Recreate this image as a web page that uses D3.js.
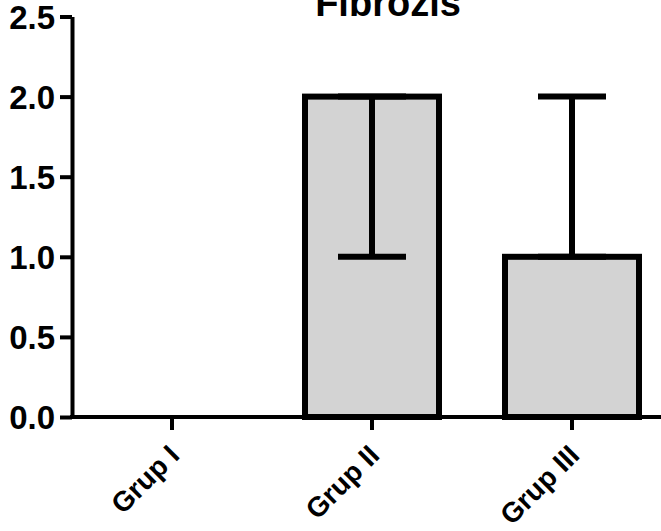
<!DOCTYPE html>
<html>
<head>
<meta charset="utf-8">
<script src="https://cdn.jsdelivr.net/npm/d3@7/dist/d3.min.js"></script>
<style>
  html, body { margin: 0; padding: 0; background: #ffffff; }
  svg { display: block; }
  text { font-family: "Liberation Sans", Arial, Helvetica, sans-serif; font-weight: bold; fill: #000; }
</style>
</head>
<body>
<svg id="chart" width="661" height="531"></svg>
<script>
// Fibrosis score per group: median with range
const groups = ["Grup I", "Grup II", "Grup III"];
const medians = [0, 2, 1];
const rangeMin = [0, 1, 1];
const rangeMax = [0, 2, 2];
const yTicks = [0, 0.5, 1, 1.5, 2, 2.5];
const title = "Fibrozis";

(function draw() {
  const svg = d3.select("#chart");
  const plotLeft = 72, plotRight = 672, plotTop = 16.5, plotBottom = 417;

  const x = d3.scaleBand().domain(groups).range([plotLeft, plotRight]).paddingInner(0.33).paddingOuter(0.165);
  const y = d3.scaleLinear().domain([0, 2.5]).range([plotBottom, plotTop]);

  // Bars
  svg.append("g").selectAll("rect").data(groups).join("rect")
    .attr("x", d => x(d))
    .attr("width", x.bandwidth())
    .attr("y", (d, i) => y(medians[i]))
    .attr("height", (d, i) => plotBottom - y(medians[i]))
    .attr("fill", "#d3d3d3")
    .attr("stroke", "#000")
    .attr("stroke-width", 6)
    .attr("display", (d, i) => medians[i] > 0 ? null : "none");

  // Range whiskers
  const capW = 68;
  const eb = svg.append("g").attr("stroke", "#000").attr("stroke-width", 6).attr("fill", "none");
  groups.forEach((g, i) => {
    if (rangeMax[i] === rangeMin[i]) return;
    const cx = x(g) + x.bandwidth() / 2;
    eb.append("line").attr("x1", cx).attr("x2", cx).attr("y1", y(rangeMin[i])).attr("y2", y(rangeMax[i]));
    eb.append("line").attr("x1", cx - capW / 2).attr("x2", cx + capW / 2).attr("y1", y(rangeMin[i])).attr("y2", y(rangeMin[i]));
    eb.append("line").attr("x1", cx - capW / 2).attr("x2", cx + capW / 2).attr("y1", y(rangeMax[i])).attr("y2", y(rangeMax[i]));
  });

  // Y axis
  const yAxis = svg.append("g").attr("transform", `translate(${plotLeft},0)`)
    .call(d3.axisLeft(y).tickValues(yTicks).tickFormat(d3.format(".1f")).tickSize(12).tickSizeOuter(0).tickPadding(5));
  yAxis.select(".domain").attr("stroke", "#000").attr("stroke-width", 4);
  yAxis.selectAll(".tick line").attr("stroke", "#000").attr("stroke-width", 4);
  yAxis.selectAll(".tick text")
    .style("font-family", '"Liberation Sans", Arial, sans-serif')
    .style("font-weight", "bold")
    .style("font-size", "33px")
    .attr("fill", "#000")
    .attr("dy", "0.36em");

  // X axis
  const xAxis = svg.append("g").attr("transform", `translate(0,${plotBottom})`)
    .call(d3.axisBottom(x).tickSize(13).tickSizeOuter(0));
  xAxis.select(".domain").attr("stroke", "#000").attr("stroke-width", 4)
    .attr("d", `M${plotLeft - 2},0H${plotRight}`);
  xAxis.selectAll(".tick line").attr("stroke", "#000").attr("stroke-width", 4);
  xAxis.selectAll(".tick text")
    .style("font-family", '"Liberation Sans", Arial, sans-serif')
    .style("font-weight", "bold")
    .style("font-size", "28px")
    .attr("fill", "#000")
    .attr("text-anchor", "end")
    .attr("y", 0).attr("dy", 0)
    .attr("transform", "translate(9,40) rotate(-45)");

  // Title
  svg.append("text")
    .attr("x", 388).attr("y", 16)
    .attr("text-anchor", "middle")
    .style("font-size", "38px")
    .text(title);
})();
</script>
</body>
</html>
